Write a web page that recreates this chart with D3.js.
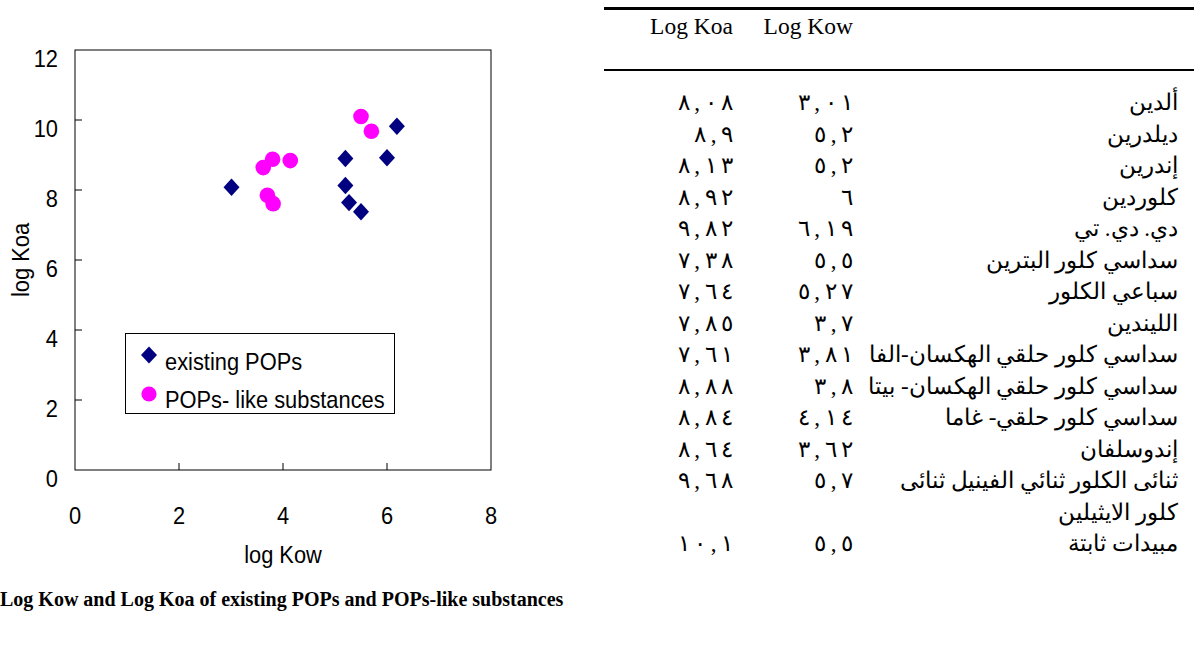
<!DOCTYPE html>
<html>
<head>
<meta charset="utf-8">
<script src="https://cdn.jsdelivr.net/npm/d3@7"></script>
<style>
  html, body { margin: 0; padding: 0; background: #fff; }
  svg { display: block; }
</style>
</head>
<body>
<div id="chart"></div>
<script>
// substance names (Arabic), as in the table; "|" marks a line break
const names = [
    'ألدين',
    'ديلدرين',
    'إندرين',
    'كلوردين',
    'دي. دي. تي',
    'سداسي كلور البترين',
    'سباعي الكلور',
    'الليندين',
    'سداسي كلور حلقي الهكسان-الفا',
    'سداسي كلور حلقي الهكسان- بيتا',
    'سداسي كلور حلقي- غاما',
    'إندوسلفان',
    'ثنائى الكلور ثنائي الفينيل ثنائى|كلور الايثيلين',
    'مبيدات ثابتة'
];
const logKoa = [8.08, 8.9, 8.13, 8.92, 9.82, 7.38, 7.64, 7.85, 7.61, 8.88, 8.84, 8.64, 9.68, 10.1];
const logKow = [3.01, 5.2, 5.2, 6, 6.19, 5.5, 5.27, 3.7, 3.81, 3.8, 4.14, 3.62, 5.7, 5.5];
// first 7 are existing POPs, rest are POPs-like substances
const groups = ['existing', 'existing', 'existing', 'existing', 'existing', 'existing', 'existing',
    'like', 'like', 'like', 'like', 'like', 'like', 'like'];

const seriesNames = ['existing POPs', 'POPs- like substances'];
const xTicks = [0, 2, 4, 6, 8];
const yTicks = [0, 2, 4, 6, 8, 10, 12];
const tableHeaders = ['Log Koa', 'Log Kow'];
const caption = 'Log Kow and Log Koa of existing POPs and POPs-like substances';

const W = 1194, H = 669;
const navy = '#000080', magenta = '#ff00ff';

const svg = d3.select('#chart').append('svg')
    .attr('width', W)
    .attr('height', H);

// ---- scatter plot ----
const x = d3.scaleLinear().domain([0, 8]).range([75, 491]);
const y = d3.scaleLinear().domain([0, 12]).range([470, 50]);

const plot = svg.append('g');

plot.append('rect')
    .attr('x', x(0))
    .attr('y', y(12))
    .attr('width', x(8) - x(0))
    .attr('height', y(0) - y(12))
    .attr('fill', 'none')
    .attr('stroke', '#000')
    .attr('stroke-width', 1);

// inward ticks
plot.selectAll('.ytick')
    .data(yTicks.filter(d => d > 0 && d < 12))
    .enter().append('line')
    .attr('x1', x(0)).attr('x2', x(0) + 7)
    .attr('y1', d => y(d)).attr('y2', d => y(d))
    .attr('stroke', '#000');

plot.selectAll('.xtick')
    .data(xTicks.filter(d => d > 0 && d < 8))
    .enter().append('line')
    .attr('x1', d => x(d)).attr('x2', d => x(d))
    .attr('y1', y(0)).attr('y2', y(0) - 7)
    .attr('stroke', '#000');

// the chart font is a tall, narrow Arial: squeeze it sideways a bit
const axisFont = '"Liberation Sans", Arial, sans-serif';
const squeeze = 0.91;
function narrowText(sel, px) {
    return sel.style('font-family', axisFont)
        .style('font-size', px + 'px');
}

plot.selectAll('.ylab')
    .data(yTicks)
    .enter().append('text')
    .attr('transform', d => `translate(58, ${y(d) + 17}) scale(${squeeze},1)`)
    .attr('text-anchor', 'end')
    .call(narrowText, 24)
    .text(d => d);

plot.selectAll('.xlab')
    .data(xTicks)
    .enter().append('text')
    .attr('transform', d => `translate(${x(d)}, 524) scale(${squeeze},1)`)
    .attr('text-anchor', 'middle')
    .call(narrowText, 24)
    .text(d => d);

plot.append('text')
    .attr('transform', `translate(${x(4)}, 563) scale(${squeeze},1)`)
    .attr('text-anchor', 'middle')
    .call(narrowText, 24)
    .text('log Kow');

plot.append('text')
    .attr('transform', `translate(29, ${y(6)}) rotate(-90) scale(${squeeze},1)`)
    .attr('text-anchor', 'middle')
    .call(narrowText, 24)
    .text('log Koa');

const points = logKow.map((k, i) => ({ kow: k, koa: logKoa[i], group: groups[i] }));
const diamondPath = (hw, hh) => `M0,${-hh}L${hw},0L0,${hh}L${-hw},0Z`;

// POPs-like circles
plot.selectAll('.like')
    .data(points.filter(d => d.group === 'like'))
    .enter().append('circle')
    .attr('cx', d => x(d.kow))
    .attr('cy', d => y(d.koa))
    .attr('r', 7.8)
    .attr('fill', magenta);

// existing POPs diamonds
plot.selectAll('.existing')
    .data(points.filter(d => d.group === 'existing'))
    .enter().append('path')
    .attr('d', diamondPath(8, 8.7))
    .attr('transform', d => `translate(${x(d.kow)},${y(d.koa)})`)
    .attr('fill', navy);

// legend
const legend = plot.append('g');
legend.append('rect')
    .attr('x', 125.5).attr('y', 333.5)
    .attr('width', 269).attr('height', 80)
    .attr('fill', '#fff')
    .attr('stroke', '#000');

legend.append('path')
    .attr('d', diamondPath(8, 8.5))
    .attr('transform', 'translate(149,355)')
    .attr('fill', navy);
legend.append('circle')
    .attr('cx', 149).attr('cy', 394).attr('r', 7.6)
    .attr('fill', magenta);

legend.selectAll('.ltext')
    .data(seriesNames)
    .enter().append('text')
    .attr('transform', (d, i) => `translate(165, ${370 + i * 38}) scale(${squeeze},1)`)
    .call(narrowText, 24)
    .text(d => d);

// caption
svg.append('text')
    .attr('x', 0)
    .attr('y', 606)
    .style('font-family', '"Liberation Serif", "Times New Roman", serif')
    .style('font-weight', 'bold')
    .style('font-size', '20px')
    .text(caption);

// ---- table ----
const serif = '"Liberation Serif", "Times New Roman", "DejaVu Serif", serif';
const toArabicDigits = v => String(v).replace('.', ',')
    .replace(/[0-9]/g, c => String.fromCharCode(0x0660 + +c));

svg.append('rect')
    .attr('x', 604).attr('y', 7)
    .attr('width', W - 604).attr('height', 3)
    .attr('fill', '#000');
svg.append('rect')
    .attr('x', 604).attr('y', 69)
    .attr('width', W - 604).attr('height', 2)
    .attr('fill', '#000');

// both columns are right-aligned
const colRight = [733, 853];
svg.selectAll('.hdr')
    .data(tableHeaders)
    .enter().append('text')
    .attr('x', (d, i) => colRight[i])
    .attr('y', 34)
    .attr('text-anchor', 'end')
    .style('font-family', serif)
    .style('font-size', '23.5px')
    .text(d => d);

// row layout: each row is 31.5 px, the 13th row wraps to two lines
const rowPitch = 31.5;
let line = 0;
const rows = names.map((n, i) => {
    const parts = n.split('|');
    const r = { parts, koa: logKoa[i], kow: logKow[i], line };
    line += parts.length;
    return r;
});
const rowY = d3.scaleLinear().domain([0, 1]).range([110, 110 + rowPitch]);

const rowG = svg.selectAll('.row')
    .data(rows)
    .enter().append('g')
    .attr('transform', d => `translate(0, ${rowY(d.line)})`);

// letter-spacing is ignored for Arabic digits, so spread them with tspans
[d => d.koa, d => d.kow].forEach((val, c) => {
    rowG.append('text')
        .attr('x', colRight[c])
        .attr('text-anchor', 'end')
        .style('font-family', serif)
        .style('font-size', '23px')
        .each(function(d) {
            const chars = Array.from(toArabicDigits(val(d)));
            d3.select(this).selectAll('tspan')
                .data(chars)
                .enter().append('tspan')
                .attr('dx', (ch, k) => k === 0 ? 0 : 4.5)
                .text(ch => ch);
        });
});

rowG.each(function(d) {
    d3.select(this).selectAll('.nm')
        .data(d.parts)
        .enter().append('text')
        .attr('x', 1178)
        .attr('y', (p, j) => j * rowPitch)
        .attr('direction', 'rtl')
        .attr('text-anchor', 'start')
        .style('font-family', serif)
        .style('font-size', '23px')
        .text(p => p);
});
</script>
</body>
</html>
